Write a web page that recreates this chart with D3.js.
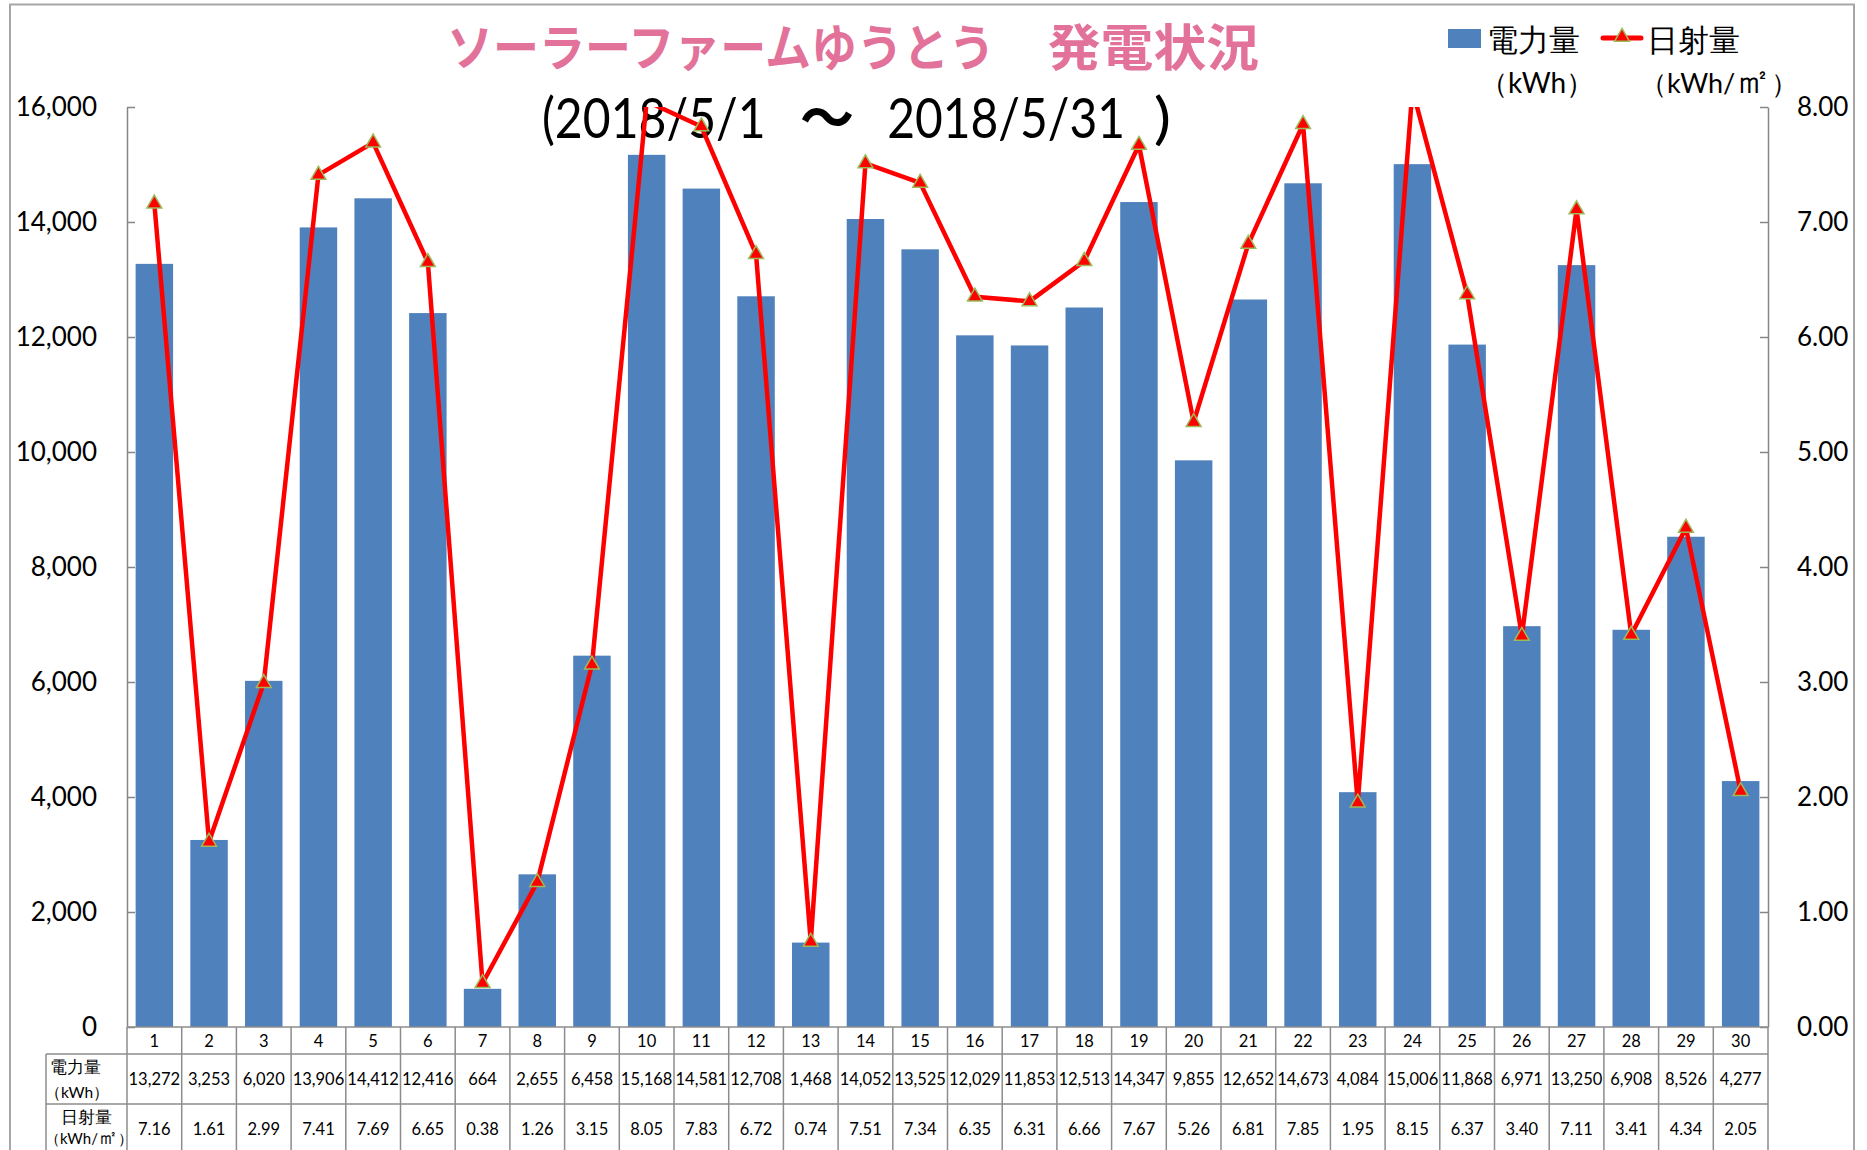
<!DOCTYPE html>
<html>
<head>
<meta charset="utf-8">
<script src="https://cdn.jsdelivr.net/npm/d3@7"></script>
<style>
    body {
        margin: 0;
        background: #fff;
    }
    text {
        font-family: Lato, "Liberation Sans", sans-serif;
    }
    .jp {
        font-family: "Noto Sans CJK JP", sans-serif;
    }
    .axis path,
    .axis line {
        stroke: #868686;
        stroke-width: 1.5;
    }
    .axis text {
        font-size: 26px;
        fill: #000;
    }
</style>
</head>
<body>
<svg id="chart" width="1867" height="1150"></svg>
<script>
    // data
    const days = d3.range(1, 31).map(String);
    const power = [
        13272, 3253, 6020, 13906, 14412, 12416, 664, 2655, 6458, 15168,
        14581, 12708, 1468, 14052, 13525, 12029, 11853, 12513, 14347, 9855,
        12652, 14673, 4084, 15006, 11868, 6971, 13250, 6908, 8526, 4277
    ];
    const solar = [
        7.16, 1.61, 2.99, 7.41, 7.69, 6.65, 0.38, 1.26, 3.15, 8.05,
        7.83, 6.72, 0.74, 7.51, 7.34, 6.35, 6.31, 6.66, 7.67, 5.26,
        6.81, 7.85, 1.95, 8.15, 6.37, 3.40, 7.11, 3.41, 4.34, 2.05
    ];
    const powerTicks = [0, 2000, 4000, 6000, 8000, 10000, 12000, 14000, 16000];
    const solarTicks = [0, 1, 2, 3, 4, 5, 6, 7, 8];

    const title = ["ソーラーファームゆうとう", "　発電状況"];
    const period = ["(2018/5/1 ", "～", " 2018/5/31", " )"];
    const unitPower = "（kWh）";
    const unitSolar = ["（kWh/", "㎡", "）"];

    // geometry
    const plot = {left: 127, right: 1768, top: 107, bottom: 1027};
    const table = {left: 46, rows: [1027, 1054, 1104, 1155]};
    const BAR = "#4F81BD";
    const LINE = "#FF0000";
    const GRID = "#8C8C8C";

    const svg = d3.select("#chart");

    svg.append("rect")
        .attr("width", 1867)
        .attr("height", 1150)
        .attr("fill", "#fff");

    // outer chart border
    svg.append("rect")
        .attr("x", 10)
        .attr("y", 4.5)
        .attr("width", 1844)
        .attr("height", 1170)
        .attr("fill", "none")
        .attr("stroke", "#A6A6A6")
        .attr("stroke-width", 2);

    // scales
    const xCell = d3.scaleBand()
        .domain(days)
        .range([plot.left, plot.right]);
    const xBar = d3.scaleBand()
        .domain(days)
        .range([plot.left, plot.right])
        .paddingInner(0.315)
        .paddingOuter(0.1575);
    const yPower = d3.scaleLinear()
        .domain([0, 16000])
        .range([plot.bottom, plot.top]);
    const ySolar = d3.scaleLinear()
        .domain([0, 8])
        .range([plot.bottom, plot.top]);

    // bars
    svg.append("g")
        .selectAll("rect")
        .data(power)
        .join("rect")
        .attr("x", (d, i) => xBar(days[i]))
        .attr("y", d => yPower(d))
        .attr("width", xBar.bandwidth())
        .attr("height", d => plot.bottom - yPower(d))
        .attr("fill", BAR);

    // axes, ticks point into the plot
    svg.append("g")
        .attr("class", "axis")
        .attr("transform", `translate(${plot.left},0)`)
        .call(
            d3.axisLeft(yPower)
            .tickValues(powerTicks)
            .tickFormat(d3.format(","))
            .tickSizeInner(-8)
            .tickSizeOuter(0)
            .tickPadding(30)
        );

    svg.append("g")
        .attr("class", "axis")
        .attr("transform", `translate(${plot.right},0)`)
        .call(
            d3.axisRight(ySolar)
            .tickValues(solarTicks)
            .tickFormat(d3.format(".2f"))
            .tickSizeInner(-8)
            .tickSizeOuter(0)
            .tickPadding(29)
        );

    // data table under the plot
    const grid = svg.append("g")
        .attr("stroke", GRID)
        .attr("stroke-width", 1.5);

    table.rows.forEach((y, i) => {
        grid.append("line")
            .attr("x1", i === 0 ? plot.left : table.left)
            .attr("x2", plot.right)
            .attr("y1", y)
            .attr("y2", y);
    });

    grid.append("line")
        .attr("x1", table.left)
        .attr("x2", table.left)
        .attr("y1", table.rows[1])
        .attr("y2", table.rows[3]);

    grid.selectAll(".col")
        .data(days.concat(["end"]))
        .join("line")
        .attr("class", "col")
        .attr("x1", d => d === "end" ? plot.right : xCell(d))
        .attr("x2", d => d === "end" ? plot.right : xCell(d))
        .attr("y1", table.rows[0])
        .attr("y2", table.rows[3]);

    const cellCenter = d => xCell(d) + xCell.bandwidth() / 2;

    const rowText = (values, y, format) => {
        svg.append("g")
            .selectAll("text")
            .data(values)
            .join("text")
            .attr("x", (d, i) => cellCenter(days[i]))
            .attr("y", y)
            .attr("text-anchor", "middle")
            .attr("font-size", 16.5)
            .text(format);
    };

    rowText(days, 1047, d => d);
    rowText(power, 1085, d3.format(","));
    rowText(solar, 1135, d3.format(".2f"));

    // unit text with a bigger ㎡ like the original font draws it
    const unitText = (g, x, y, size) => {
        const t = g.append("text")
            .attr("x", x)
            .attr("y", y)
            .attr("font-size", size);
        t.append("tspan").text(unitSolar[0]);
        t.append("tspan").attr("font-size", size * 1.35).text(unitSolar[1]);
        t.append("tspan").text(unitSolar[2]);
        return t;
    };

    // row headers
    const head = svg.append("g")
        .attr("class", "jp")
        .attr("fill", "#000");

    head.append("text")
        .attr("x", 50)
        .attr("y", 1073)
        .attr("font-size", 16.5)
        .text("電力量");
    head.append("text")
        .attr("x", 45)
        .attr("y", 1098)
        .attr("font-size", 15.5)
        .text(unitPower);
    head.append("text")
        .attr("x", 86)
        .attr("y", 1123)
        .attr("text-anchor", "middle")
        .attr("font-size", 16.5)
        .text("日射量");
    unitText(head, 45, 1144, 15);

    // titles, pieces stretched to the widths of the original font
    const titlePos = [
        {x: 447, w: 548},
        {x: 995, w: 264}
    ];
    svg.append("text")
        .attr("class", "jp")
        .attr("y", 66)
        .attr("font-size", 50)
        .attr("font-weight", "bold")
        .attr("fill", "#E2729A")
        .selectAll("tspan")
        .data(title)
        .join("tspan")
        .attr("x", (d, i) => titlePos[i].x)
        .attr("textLength", (d, i) => titlePos[i].w)
        .attr("lengthAdjust", "spacingAndGlyphs")
        .text(d => d);

    const periodPos = [
        {x: 542, w: 236},
        {x: 800, w: 54},
        {x: 875, w: 250},
        {x: 1137, w: 34}
    ];
    svg.append("text")
        .attr("y", 138)
        .attr("font-size", 56)
        .attr("fill", "#000")
        .selectAll("tspan")
        .data(period)
        .join("tspan")
        .attr("font-family", (d, i) => i === 1 ? "Noto Sans CJK JP" : null)
        .attr("font-weight", (d, i) => i === 1 ? "bold" : null)
        .attr("x", (d, i) => periodPos[i].x)
        .attr("textLength", (d, i) => periodPos[i].w)
        .attr("lengthAdjust", "spacingAndGlyphs")
        .text(d => d);

    // line + markers, clipped to the plot area like Excel does
    svg.append("clipPath")
        .attr("id", "plotclip")
        .append("rect")
        .attr("x", plot.left)
        .attr("y", plot.top)
        .attr("width", plot.right - plot.left)
        .attr("height", plot.bottom - plot.top);

    const series = svg.append("g").attr("clip-path", "url(#plotclip)");

    const line = d3.line()
        .x((d, i) => cellCenter(days[i]))
        .y(d => ySolar(d));

    series.append("path")
        .datum(solar)
        .attr("d", line)
        .attr("fill", "none")
        .attr("stroke", LINE)
        .attr("stroke-width", 4.5)
        .attr("stroke-linejoin", "round");

    const triangle = d3.symbol(d3.symbolTriangle, 95);

    series.selectAll(".marker")
        .data(solar)
        .join("path")
        .attr("class", "marker")
        .attr("d", triangle)
        .attr("transform", (d, i) => `translate(${cellCenter(days[i])},${ySolar(d)})`)
        .attr("fill", LINE)
        .attr("stroke", "#9BBB59")
        .attr("stroke-width", 1.5);

    // legend
    const legend = svg.append("g").attr("class", "jp");

    legend.append("rect")
        .attr("x", 1448)
        .attr("y", 29)
        .attr("width", 33)
        .attr("height", 19)
        .attr("fill", BAR);
    legend.append("text")
        .attr("x", 1487)
        .attr("y", 51)
        .attr("font-size", 31)
        .text("電力量");
    legend.append("text")
        .attr("x", 1480)
        .attr("y", 93)
        .attr("font-size", 28)
        .text(unitPower);

    legend.append("line")
        .attr("x1", 1603)
        .attr("x2", 1641)
        .attr("y1", 38)
        .attr("y2", 38)
        .attr("stroke", LINE)
        .attr("stroke-width", 5)
        .attr("stroke-linecap", "round");
    legend.append("path")
        .attr("d", triangle)
        .attr("transform", "translate(1622,37)")
        .attr("fill", LINE)
        .attr("stroke", "#9BBB59")
        .attr("stroke-width", 1.5);
    legend.append("text")
        .attr("x", 1647)
        .attr("y", 51)
        .attr("font-size", 31)
        .text("日射量");
    unitText(legend, 1640, 93, 27);
</script>
</body>
</html>
